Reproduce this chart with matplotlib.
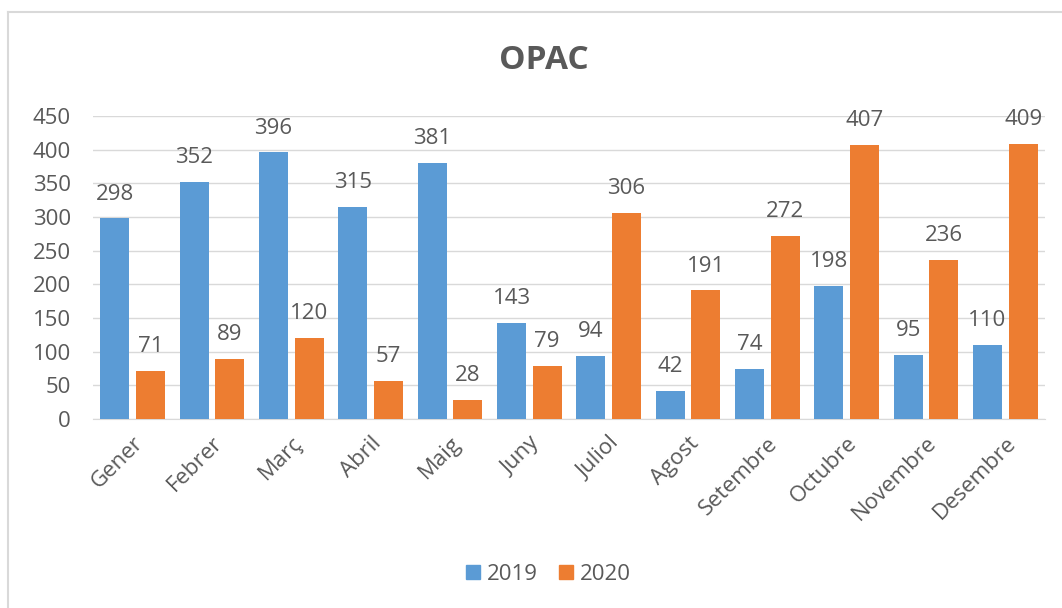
import matplotlib
matplotlib.use("Agg")
import matplotlib.pyplot as plt
from matplotlib.lines import Line2D
import numpy as np

plt.rcParams['font.family'] = ['Open Sans', 'DejaVu Sans']

months = ["Gener", "Febrer", "Març", "Abril", "Maig", "Juny", "Juliol",
          "Agost", "Setembre", "Octubre", "Novembre", "Desembre"]
v2019 = [298, 352, 396, 315, 381, 143, 94, 42, 74, 198, 95, 110]
v2020 = [71, 89, 120, 57, 28, 79, 306, 191, 272, 407, 236, 409]
yticks = [0, 50, 100, 150, 200, 250, 300, 350, 400, 450]

c2019 = "#5B9BD5"
c2020 = "#ED7D31"
txt = "#595959"

fig = plt.figure(figsize=(10.62, 6.08), dpi=100)
ax = fig.add_axes([0.0876, 0.311, 0.8964, 0.498])

x = np.arange(len(months))
w = 0.365
b1 = ax.bar(x - 0.225, v2019, w, color=c2019, zorder=3)
b2 = ax.bar(x + 0.225, v2020, w, color=c2020, zorder=3)

for bars, vals in ((b1, v2019), (b2, v2020)):
    for r, v in zip(bars, vals):
        ax.annotate(str(v), (r.get_x() + r.get_width() / 2, v),
                    xytext=(0, 10), textcoords="offset points",
                    ha="center", va="bottom", fontsize=16, color=txt)

ax.set_xlim(-0.5, len(months) - 0.5)
ax.set_ylim(0, 450)
ax.set_yticks(yticks)
ax.yaxis.grid(True, color="#D9D9D9", linewidth=1, zorder=0)
ax.set_axisbelow(True)
for s in ["top", "right", "left"]:
    ax.spines[s].set_visible(False)
ax.spines["bottom"].set_color("#D9D9D9")
ax.tick_params(axis="both", length=0, labelsize=16, colors=txt)
ax.tick_params(axis="y", pad=16)
ax.set_xticks(x)
ax.set_xticklabels(months, rotation=45, ha="right", rotation_mode="anchor")
ax.tick_params(axis="x", pad=10)

fig.text(0.512, 0.9, "OPAC", ha="center", va="center", fontsize=24,
         fontweight="bold", color=txt)

handles = [Line2D([], [], marker="s", linestyle="none", markersize=10, color=c2019),
           Line2D([], [], marker="s", linestyle="none", markersize=10, color=c2020)]
fig.legend(handles, ["2019", "2020"], loc="center", bbox_to_anchor=(0.516, 0.055),
           ncol=2, frameon=False, fontsize=16, labelcolor=txt,
           handlelength=0.7, handletextpad=0.3, columnspacing=0.9)

# chart frame
fig.add_artist(Line2D([8 / 1062, 1], [1 - 12 / 608, 1 - 12 / 608],
                      transform=fig.transFigure, color="#D9D9D9", linewidth=1.5))
fig.add_artist(Line2D([8 / 1062, 8 / 1062], [0, 1 - 12 / 608],
                      transform=fig.transFigure, color="#D9D9D9", linewidth=1.5))

fig.savefig("out.png", dpi=100)
